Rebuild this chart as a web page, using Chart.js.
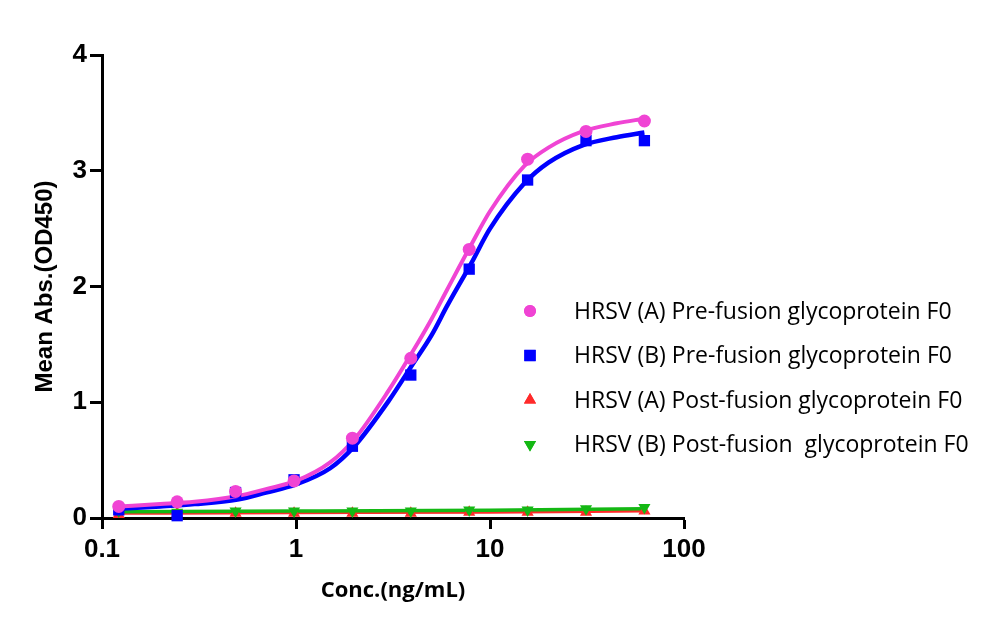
<!DOCTYPE html>
<html>
<head>
<meta charset="utf-8">
<script src="https://cdn.jsdelivr.net/npm/chart.js@4/dist/chart.umd.min.js"></script>
<style>
  html, body { margin: 0; padding: 0; background: #fff; }
  canvas { display: block; }
</style>
</head>
<body>
<canvas id="elisa" width="1000" height="634"></canvas>
<script>
// measured points (ng/mL vs OD450)
var concList = [0.122, 0.244, 0.488, 0.977, 1.953, 3.906, 7.8125, 15.625, 31.25, 62.5];
var preA = [0.10, 0.14, 0.23, 0.32, 0.69, 1.38, 2.32, 3.10, 3.34, 3.43];
var preB = [0.07, 0.02, 0.22, 0.33, 0.62, 1.235, 2.15, 2.92, 3.26, 3.26];
var postA = [0.03, 0.04, 0.04, 0.04, 0.04, 0.04, 0.05, 0.05, 0.05, 0.06];
var postB = [0.06, 0.05, 0.06, 0.06, 0.06, 0.06, 0.07, 0.07, 0.08, 0.09];

// fitted curves
var curveConc = [0.122, 0.2, 0.3, 0.5, 0.7, 1, 1.5, 2, 3, 4, 5, 6, 8, 10, 15, 20, 30, 45, 62.5];
var curvePreA = [0.10, 0.12, 0.14, 0.19, 0.25, 0.32, 0.48, 0.68, 1.10, 1.44, 1.72, 1.97, 2.36, 2.65, 3.04, 3.20, 3.34, 3.41, 3.45];
var curvePreB = [0.08, 0.10, 0.12, 0.16, 0.22, 0.29, 0.43, 0.62, 1.01, 1.33, 1.58, 1.83, 2.20, 2.50, 2.89, 3.07, 3.22, 3.29, 3.33];
var lineConc = [0.122, 1, 10, 62.5];
var linePostA = [0.04, 0.045, 0.05, 0.06];
var linePostB = [0.055, 0.06, 0.068, 0.08];

var xTicks = [0.1, 1, 10, 100];
var yTicks = [0, 1, 2, 3, 4];

var seriesNames = [
  'HRSV (A) Pre-fusion glycoprotein F0',
  'HRSV (B) Pre-fusion glycoprotein F0',
  'HRSV (A) Post-fusion glycoprotein F0',
  'HRSV (B) Post-fusion  glycoprotein F0'
];
var pink = '#f044d4';
var blue = '#0000ff';
var red = '#ff2a2a';
var green = '#14b814';

function pts(xs, ys) {
  var out = [];
  for (var i = 0; i < xs.length; i++) out.push({ x: xs[i], y: ys[i] });
  return out;
}

function curve(xs, ys, color, w, order) {
  return {
    type: 'line', data: pts(xs, ys), borderColor: color, borderWidth: w,
    pointRadius: 0, cubicInterpolationMode: 'monotone', fill: false, order: order, clip: false
  };
}

function marks(ys, color, style, r, rot, order) {
  return {
    type: 'line', data: pts(concList, ys), showLine: false,
    pointStyle: style, pointRadius: r, pointRotation: rot,
    pointBackgroundColor: color, pointBorderColor: color, pointBorderWidth: 0,
    order: order, clip: false
  };
}

var legendRows = [
  { color: pink, style: 'circle', r: 6, rot: 0 },
  { color: blue, style: 'rect', r: 8, rot: 0 },
  { color: red, style: 'triangle', r: 7, rot: 0 },
  { color: green, style: 'triangle', r: 7, rot: 180 }
];

// legend sits inside the plot, drawn by hand
var sideLegend = {
  id: 'sideLegend',
  afterDraw: function (chart) {
    var c = chart.ctx;
    c.save();
    c.font = '23px "Open Sans"';
    c.textBaseline = 'middle';
    for (var i = 0; i < legendRows.length; i++) {
      var row = legendRows[i];
      var y = 311 + i * 44.5;
      c.fillStyle = row.color;
      Chart.helpers.drawPoint(c, { pointStyle: row.style, radius: row.r, rotation: row.rot, borderWidth: 0 }, 530, y);
      c.fill();
      c.fillStyle = '#000';
      c.fillText(seriesNames[i], 574, y + 1);
    }
    c.restore();
  }
};

new Chart(document.getElementById('elisa'), {
  type: 'line',
  data: {
    datasets: [
      curve(lineConc, linePostA, red, 3, 8),
      curve(lineConc, linePostB, green, 3.5, 7),
      curve(curveConc, curvePreB, blue, 4.5, 6),
      curve(curveConc, curvePreA, pink, 4, 5),
      marks(postA, red, 'triangle', 7, 0, 4),
      marks(postB, green, 'triangle', 7, 180, 3),
      marks(preB, blue, 'rect', 8, 0, 2),
      marks(preA, pink, 'circle', 6.5, 0, 1)
    ]
  },
  options: {
    responsive: false,
    animation: false,
    layout: { padding: { left: 0, top: 55, right: 316, bottom: 0 } },
    plugins: { legend: { display: false }, tooltip: { enabled: false } },
    scales: {
      x: {
        type: 'logarithmic', min: 0.1, max: 100,
        afterBuildTicks: function (s) { s.ticks = xTicks.map(function (v) { return { value: v }; }); },
        afterFit: function (s) { s.height = 116; },
        ticks: {
          autoSkip: false, maxRotation: 0, padding: 5, color: '#000',
          font: { family: 'Liberation Sans', size: 26, weight: 'bold' },
          callback: function (v) { return String(v); }
        },
        grid: { drawOnChartArea: false, drawTicks: true, tickLength: 11, tickWidth: 3, tickColor: '#000' },
        border: { display: true, color: '#000', width: 3 },
        title: {
          display: true, text: 'Conc.(ng/mL)', color: '#000',
          font: { family: 'Open Sans', size: 22, weight: 'bold' },
          padding: { top: 0, bottom: 30 }
        }
      },
      y: {
        type: 'linear', min: 0, max: 4,
        afterBuildTicks: function (s) { s.ticks = yTicks.map(function (v) { return { value: v }; }); },
        afterFit: function (s) { s.width = 102; },
        ticks: {
          padding: 3, color: '#000',
          font: { family: 'Liberation Sans', size: 26, weight: 'bold' }
        },
        grid: { drawOnChartArea: false, drawTicks: true, tickLength: 12, tickWidth: 3, tickColor: '#000' },
        border: { display: true, color: '#000', width: 3 },
        title: {
          display: true, text: 'Mean Abs.(OD450)', color: '#000',
          font: { family: 'Liberation Sans', size: 24, weight: 'bold' },
          padding: { top: 31, bottom: 0 }
        }
      }
    }
  },
  plugins: [sideLegend]
});
</script>
</body>
</html>
